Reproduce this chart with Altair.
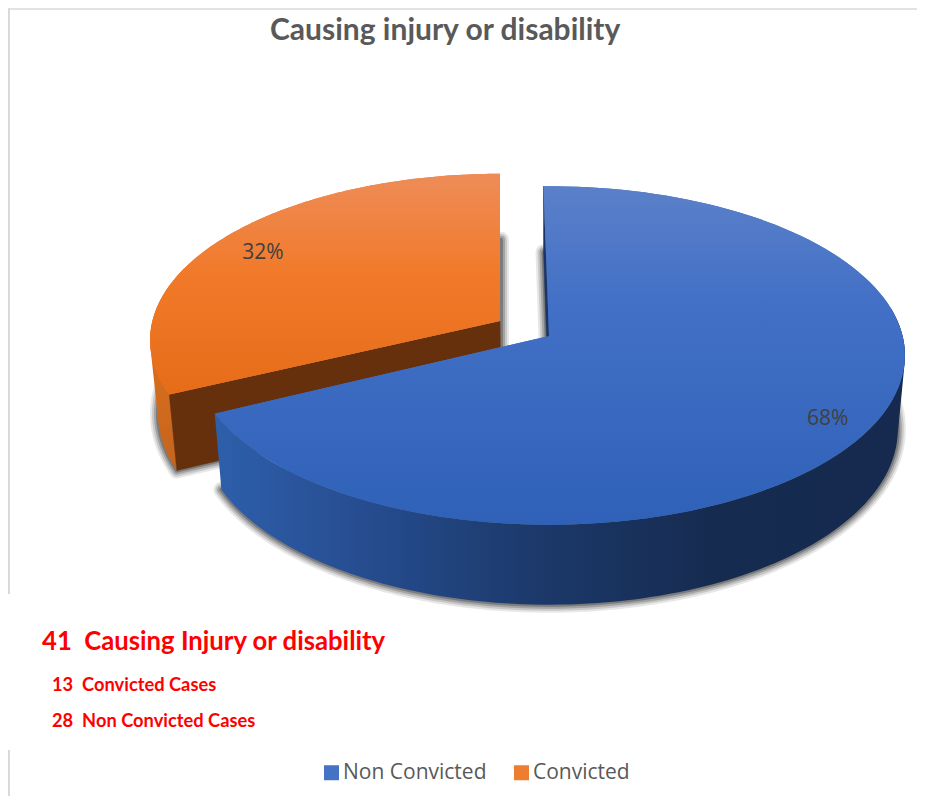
import math
import altair as alt

# ---- values
categories = ["Non Convicted", "Convicted"]
shares = [68, 32]
label_texts = ["68%", "32%"]
legend_colors = ["#4472c4", "#ed7d31"]
title_text = "Causing injury or disability"
note_lines = ["41\u00a0\u00a0Causing Injury or disability", "13\u00a0\u00a0Convicted Cases", "28\u00a0\u00a0Non Convicted Cases"]

# ---- 3-D pie view settings
PAGE = 8
K = 0.115           # perspective
A, B = 353.6, 167.0  # disk radii
VANISH_X = 548.0
START = -1.0

def top(deg, c, s, f=1.0):
    t = math.radians(deg)
    X, Y = math.sin(t) * f, math.cos(t) * f
    d = 1 + K * Y
    return (c[0] + s * A * X / d, c[1] - s * B * Y / d)

def depth_drop(deg, f=1.0):
    return 73 - 7 * math.cos(math.radians(deg)) * f

def bot(deg, c, s, f=1.0):
    x, y = top(deg, c, s, f)
    return (VANISH_X + 0.98 * (x - VANISH_X), y + depth_drop(deg, f))

def arc(fn, a0, a1, c, s, n=120):
    return [fn(a0 + (a1 - a0) * i / n, c, s) for i in range(n + 1)]

def ring(pts):
    pts = [[round(p[0], 2), round(p[1], 2)] for p in pts]
    area = sum(pts[i][0] * pts[(i + 1) % len(pts)][1] - pts[(i + 1) % len(pts)][0] * pts[i][1]
               for i in range(len(pts)))
    if area < 0:
        pts.reverse()
    pts.append(pts[0])
    return pts

def feature(name, pts):
    return {"type": "Feature", "properties": {"name": name},
            "geometry": {"type": "Polygon", "coordinates": [ring(pts)]}}

def strip(name, a0, a1, c, s, n=120):
    """Outer wall of a slice, one quad per step, so its silhouette is the true one."""
    quads = []
    for i in range(n):
        u = a0 + (a1 - a0) * i / n
        v = a0 + (a1 - a0) * (i + 1) / n
        quads.append([ring([top(u, c, s), top(v, c, s), bot(v, c, s), bot(u, c, s)])])
    return {"type": "Feature", "properties": {"name": name},
            "geometry": {"type": "MultiPolygon", "coordinates": quads}}

# slice angles from the shares
blue_a0 = START
blue_a1 = START + 360 * shares[0] / sum(shares)
or_a0 = blue_a1 + 1
or_a1 = 360.0
blue_c, blue_s = (549.0, 336.0), 1.0
or_c, or_s = (500.0, 321.0), 0.983

blue_top = feature(categories[0], [blue_c] + arc(top, blue_a0, blue_a1, blue_c, blue_s))
or_top = feature(categories[1], [or_c] + arc(top, or_a0, or_a1, or_c, or_s))
blue_apex_b = bot(0, blue_c, blue_s, 0.0)
or_apex_b = bot(0, or_c, or_s, 0.0)
blue_bot = feature("s", [blue_apex_b] + arc(bot, blue_a0, blue_a1, blue_c, blue_s))
or_bot = feature("s", [or_apex_b] + arc(bot, or_a0, or_a1, or_c, or_s))
blue_side = strip("w", 80, blue_a1, blue_c, blue_s)
or_side = strip("w", or_a0, 290, or_c, or_s)
or_cut = feature("c", [or_c, top(or_a0, or_c, or_s), bot(or_a0, or_c, or_s), or_apex_b])
blue_cut = feature("c", [blue_c, top(blue_a0, blue_c, blue_s), bot(blue_a0, blue_c, blue_s), blue_apex_b])

def grad(stops, horizontal=False):
    return alt.Gradient(
        gradient="linear",
        stops=[alt.GradientStop(offset=o, color=c) for o, c in stops],
        x1=0, y1=0, x2=1 if horizontal else 0, y2=0 if horizontal else 1,
    )

def geo(features, **mark):
    return alt.Chart(alt.Data(values=features)).mark_geoshape(**mark)

layers = []
# soft shadow under the slices
for w, o in [(16, 0.10), (12, 0.15), (8, 0.22), (4, 0.3)]:
    layers.append(geo([blue_bot, or_bot], fill="#222222", stroke="#222222", strokeWidth=w,
                      strokeJoin="round", opacity=o))

# orange slice
layers.append(geo([or_side], fill=grad([(0, "#ea761f"), (1, "#c4641c")])))
layers.append(geo([or_cut], fill="#66300c", stroke="#66300c", strokeWidth=0.5))
# flat faces carry the legend colours
layers.append(
    geo([blue_top, or_top], strokeWidth=0).encode(
        fill=alt.Fill(
            "properties.name:N",
            scale=alt.Scale(domain=categories, range=legend_colors),
            legend=alt.Legend(
                title=None, orient="none", legendX=313, legendY=754, columns=2,
                symbolType="square", symbolSize=225, symbolStrokeWidth=0,
                labelFont="Open Sans", labelFontSize=21, labelColor="#595959",
                labelOffset=1, columnPadding=24, symbolOpacity=1,
            ),
        )
    )
)
layers.append(geo([or_top], fill=grad([(0, "#ee8c58"), (0.45, "#f17a2a"), (1, "#e66c18")])))
# blue slice
layers.append(geo([blue_cut], fill="#1a3566", stroke="#1a3566", strokeWidth=0.5))
layers.append(geo([blue_side], fill=grad([(0, "#2e5fab"), (0.2, "#274e92"), (0.45, "#1c3a6c"),
                                          (0.72, "#162b50"), (1, "#152a4e")], horizontal=True)))
layers.append(geo([blue_top], fill=grad([(0, "#5b80c9"), (0.35, "#4270c6"), (1, "#2f61b8")])))

# percentage labels
lab_pts = [top((blue_a0 + blue_a1) / 2, blue_c, blue_s, 0.875),
           top((or_a0 + or_a1) / 2, or_c, or_s, 0.85)]
lab_rows = [{"t": t, "lon": p[0], "lat": p[1]} for t, p in zip(label_texts, lab_pts)]
layers.append(
    alt.Chart(alt.Data(values=lab_rows))
    .mark_text(font="Open Sans", fontSize=21, color="#404040", align="center", baseline="middle", dy=3)
    .encode(longitude="lon:Q", latitude="lat:Q", text="t:N")
)

# frame lines
frame_rows = [{"x": 1, "y": 0, "y2": 586}, {"x": 1, "y": 742, "y2": 788}]
for r in frame_rows:
    layers.append(
        alt.Chart(alt.Data(values=[r])).mark_rule(color="#d9d9d9", strokeWidth=2)
        .encode(x=alt.value(r["x"]), y=alt.value(r["y"]), y2=alt.value(r["y2"]))
    )
layers.append(
    alt.Chart(alt.Data(values=[{"a": 1}])).mark_rule(color="#e2e2e2", strokeWidth=2)
    .encode(x=alt.value(1), x2=alt.value(909), y=alt.value(1))
)

# red note
note_rows = [(note_lines[0], 34, 642, 25.7), (note_lines[1], 44, 683, 18.3), (note_lines[2], 44, 719, 18.3)]
for t, x, y, s in note_rows:
    layers.append(
        alt.Chart(alt.Data(values=[{"t": t}]))
        .mark_text(font="Lato", fontWeight="bold", fontSize=s, color="#ff0000",
                   align="left", baseline="alphabetic")
        .encode(text="t:N", x=alt.value(x), y=alt.value(y))
    )

chart = (
    alt.layer(*layers)
    .project(type="identity", scale=1, translate=[-PAGE, -PAGE])
    .properties(
        width=909, height=788,
        padding=0,
        autosize=alt.AutoSizeParams(type="none"),
        background="white",
        title=alt.TitleParams(
            title_text, font="Lato", fontWeight="bold", fontSize=30, color="#595959",
            anchor="start", dx=262, dy=63, offset=0, baseline="alphabetic",
        ),
    )
    .configure_view(stroke=None)
)
chart.save("out.html", embed_options={"renderer": "svg", "actions": False})
